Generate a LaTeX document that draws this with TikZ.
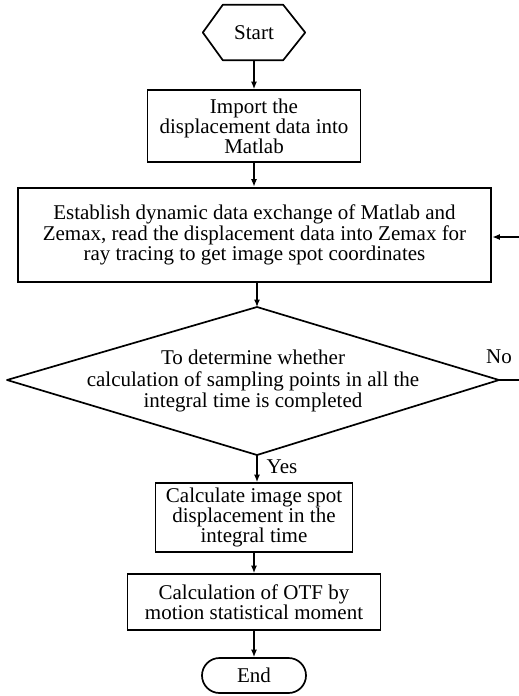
\documentclass[tikz,border=0pt]{standalone}
\usepackage{fontspec}
\setmainfont{Liberation Serif}
\usetikzlibrary{arrows.meta,shapes.misc,calc}
\begin{document}
\begin{tikzpicture}[x=1pt,y=-1pt,
  every node/.style={font=\fontsize{21}{18.5}\selectfont, align=center, inner sep=0pt},
  procbox/.style={draw, line width=1.7pt, minimum width=#1},
  arr/.style={line width=1.3pt, -{Latex[length=7.5pt,width=6pt]}},
  plain/.style={line width=1.3pt},
  shapeline/.style={line width=1.7pt, line join=round}]
\useasboundingbox (0,0) rectangle (519,696);
% Start hexagon
\node[minimum width=102pt, minimum height=55pt] (start) at (254,32.5) {Start};
\draw[shapeline] ([xshift=20pt]start.north west) -- ([xshift=-22pt]start.north east)
  -- (start.east) -- ([xshift=-22pt]start.south east) -- ([xshift=20pt]start.south west)
  -- (start.west) -- cycle;
% Box 1
\node[procbox=213pt, minimum height=72pt] (b1) at (254,126)
  {Import the\\displacement data into\\Matlab};
% Box 2
\node[procbox=473pt, minimum height=94pt, line width=2.6pt] (b2) at (254.5,235)
  {Establish dynamic data exchange of Matlab and\\Zemax, read the displacement data into Zemax for\\ray tracing to get image spot coordinates};
% Diamond
\coordinate (dT) at (257,307);
\coordinate (dR) at (499,380);
\coordinate (dB) at (257,455);
\coordinate (dL) at (7,380);
\draw[shapeline] (dT) -- (dR) -- (dB) -- (dL) -- cycle;
\node[font=\fontsize{21}{21.5}\selectfont] (dtext) at (253,381)
  {To determine whether\\calculation of sampling points in all the\\integral time is completed};
% Box 3
\node[procbox=197pt, minimum height=69pt] (b3) at (254,517.5)
  {Calculate image spot\\displacement in the\\integral time};
% Box 4
\node[procbox=253pt, minimum height=56pt] (b4) at (254,602)
  {Calculation of OTF by\\motion statistical moment};
% End
\node[draw, line width=1.7pt, rounded rectangle, minimum width=104pt, minimum height=35pt] (end) at (254,675.5) {End};
% Connectors
\draw[arr] (start.south) -- (b1.north -| start.south);
\draw[arr] (b1.south) -- (b2.north -| b1.south);
\draw[arr] (b2.south -| dT) -- (dT);
\draw[arr] (dB) -- (b3.north -| dB);
\draw[arr] (b3.south) -- (b4.north);
\draw[arr] (b4.south) -- (end.north);
% Feedback
\coordinate (fbR) at (519,380);
\coordinate (fbT) at (519,237);
\draw[plain] (dR) -- (fbR);
\draw[arr] (fbT) -- (b2.east |- fbT);
% Labels
\node (no) at (499,357) {No};
\node (yes) at (282,467) {Yes};
\end{tikzpicture}
\end{document}
